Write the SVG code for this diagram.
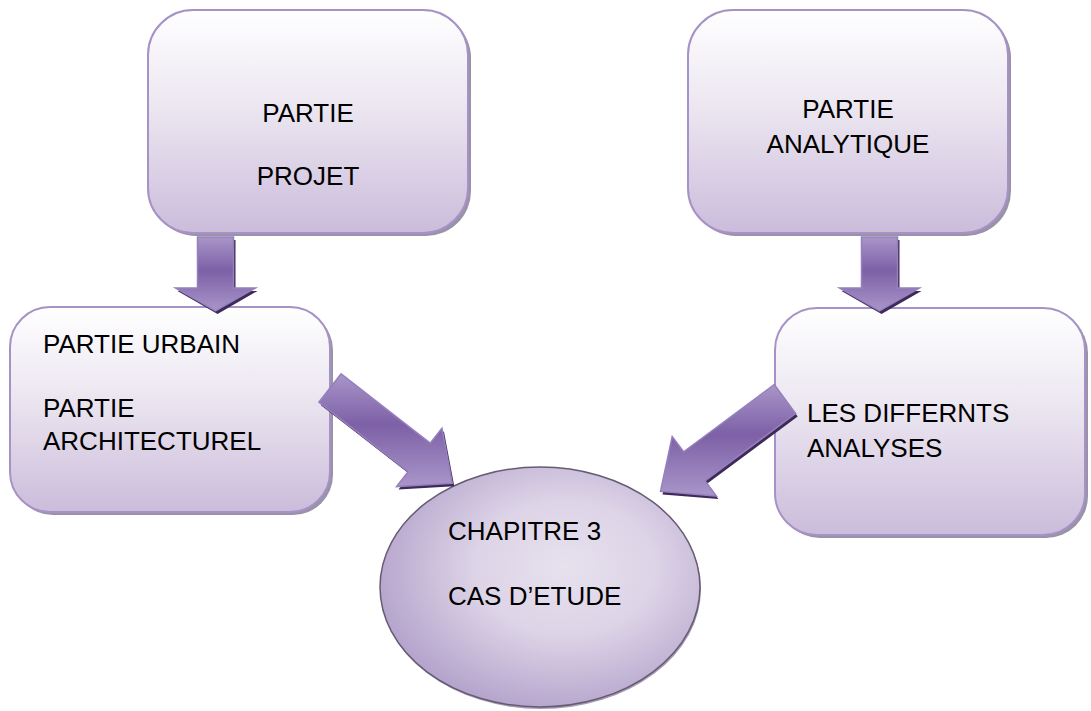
<svg xmlns="http://www.w3.org/2000/svg" width="1091" height="711" viewBox="0 0 1091 711">
<defs>
<linearGradient id="boxFill" x1="0" y1="0" x2="0" y2="1">
<stop offset="0" stop-color="#ffffff"/>
<stop offset="0.45" stop-color="#ebe5f0"/>
<stop offset="1" stop-color="#cbbcdb"/>
</linearGradient>
<radialGradient id="ellFill" cx="0.58" cy="0.42" r="0.62">
<stop offset="0" stop-color="#e7e1ee"/>
<stop offset="0.45" stop-color="#ddd4e7"/>
<stop offset="1" stop-color="#b3a2cb"/>
</radialGradient>
<linearGradient id="arrFill" x1="0" y1="0" x2="0" y2="1">
<stop offset="0" stop-color="#a995c9"/>
<stop offset="0.45" stop-color="#7d60a6"/>
<stop offset="1" stop-color="#a996c9"/>
</linearGradient>
</defs>
<style>
.box{fill:url(#boxFill);stroke:#a692c6;stroke-width:2}
.shadow{fill:#9a92a6}
.lbl{font-family:"Liberation Sans",Arial,sans-serif;font-size:26px;fill:#000}
.mid{text-anchor:middle}
.arr{fill:url(#arrFill);stroke:#9580bd;stroke-width:1.5}
.arrsh{fill:#3d2a58}
</style>
<rect width="1091" height="711" fill="#ffffff"/>

<g id="node-partie-projet">
<rect class="shadow" x="151" y="13" width="320" height="223" rx="45"/>
<rect class="box" x="148" y="10" width="320" height="223" rx="45"/>
<text class="lbl mid" x="308" y="122">PARTIE</text>
<text class="lbl mid" x="308" y="185">PROJET</text>
</g>

<g id="node-partie-analytique">
<rect class="shadow" x="691" y="13" width="320" height="223" rx="45"/>
<rect class="box" x="688" y="10" width="320" height="223" rx="45"/>
<text class="lbl mid" x="848" y="118">PARTIE</text>
<text class="lbl mid" x="848" y="153">ANALYTIQUE</text>
</g>

<g id="node-partie-urbain">
<rect class="shadow" x="13" y="310" width="320" height="205" rx="40"/>
<rect class="box" x="10" y="307" width="320" height="205" rx="40"/>
<text class="lbl" x="43" y="353">PARTIE URBAIN</text>
<text class="lbl" x="43" y="417">PARTIE</text>
<text class="lbl" x="43" y="450">ARCHITECTUREL</text>
</g>

<g id="node-analyses">
<rect class="shadow" x="778" y="311" width="310" height="227" rx="42"/>
<rect class="box" x="775" y="308" width="310" height="227" rx="42"/>
<text class="lbl" x="807" y="422">LES DIFFERNTS</text>
<text class="lbl" x="807" y="457">ANALYSES</text>
</g>

<g id="node-chapitre">
<ellipse cx="541" cy="589" rx="160" ry="120" fill="#a79bb5"/>
<ellipse cx="540" cy="587" rx="160" ry="120" fill="url(#ellFill)" stroke="#665c72" stroke-width="1.5"/>
<text class="lbl" x="448" y="540">CHAPITRE 3</text>
<text class="lbl" x="448" y="605">CAS D’ETUDE</text>
</g>

<g id="connectors">
<g transform="translate(2,3)">
<path class="arrsh" d="M197.5,237 H233.5 V288 H255.5 L215.5,311 L175.5,288 H197.5 Z"/>
<path class="arrsh" d="M861.5,237 H897.5 V288 H919.5 L879.5,311 L839.5,288 H861.5 Z"/>
<path class="arrsh" d="M341.1,373.8 L430.2,443.2 L441.9,428.2 L452.3,483.2 L396.5,486.6 L408.1,471.6 L318.9,402.2 Z"/>
<path class="arrsh" d="M795.7,413.5 L705,480.8 L716.4,496 L660.5,491.4 L672.2,436.6 L683.6,451.8 L774.3,384.5 Z"/>
</g>
<path class="arr" d="M197.5,237 H233.5 V288 H255.5 L215.5,311 L175.5,288 H197.5 Z"/>
<path class="arr" d="M861.5,237 H897.5 V288 H919.5 L879.5,311 L839.5,288 H861.5 Z"/>
<path class="arr" d="M341.1,373.8 L430.2,443.2 L441.9,428.2 L452.3,483.2 L396.5,486.6 L408.1,471.6 L318.9,402.2 Z"/>
<path class="arr" d="M795.7,413.5 L705,480.8 L716.4,496 L660.5,491.4 L672.2,436.6 L683.6,451.8 L774.3,384.5 Z"/>
</g>
</svg>
